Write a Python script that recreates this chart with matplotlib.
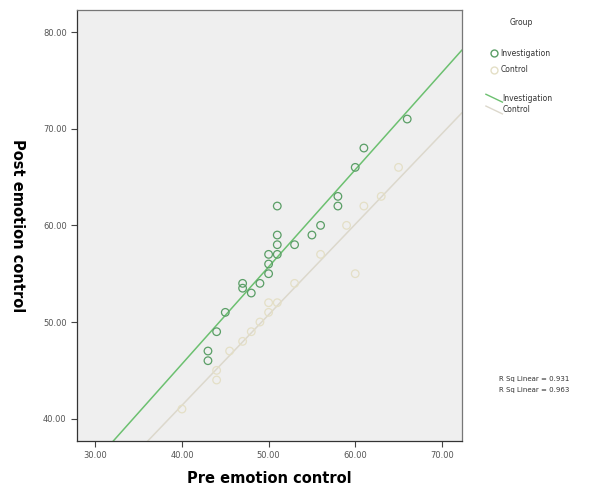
import numpy as np
import matplotlib
matplotlib.use("Agg")
from matplotlib import pyplot as plt
from matplotlib.lines import Line2D

# values
inv_pre = [66, 61, 60, 58, 58, 56, 55, 53, 51, 51, 51, 51, 50, 50, 50, 49, 47, 47, 48, 45, 44, 43, 43]
inv_post = [71, 68, 66, 63, 62, 60, 59, 58, 62, 59, 58, 57, 57, 56, 55, 54, 54, 53.5, 53, 51, 49, 47, 46]
ctl_pre = [40, 44, 44, 45.5, 47, 48, 49, 50, 50, 51, 53, 56, 59, 61, 63, 65, 60]
ctl_post = [41, 44, 45, 47, 48, 49, 50, 51, 52, 52, 54, 57, 60, 62, 63, 66, 55]
groups = ["Investigation", "Control"]
r_sq = [0.931, 0.963]
xticks = [30, 40, 50, 60, 70]
yticks = [40, 50, 60, 70, 80]

inv_col = "#5a9e66"
inv_line = "#6cc070"
ctl_col = "#e4dfc6"
ctl_line = "#dcd8cc"

fig = plt.figure(figsize=(5.89, 4.91), dpi=100)
ax = fig.add_axes([0.131, 0.102, 0.653, 0.878])
ax.set_facecolor("#efefef")

ax.scatter(inv_pre, inv_post, s=30, facecolors="none", edgecolors=inv_col, linewidths=0.9, zorder=3)
ax.scatter(ctl_pre, ctl_post, s=30, facecolors="none", edgecolors=ctl_col, linewidths=0.9, zorder=3)

xlim = (27.9, 72.3)
xs = np.array(xlim)
for px, py, c in [(inv_pre, inv_post, inv_line), (ctl_pre, ctl_post, ctl_line)]:
    k, b = np.polyfit(px, py, 1)
    ax.plot(xs, k * xs + b, color=c, lw=1.1, zorder=2)

ax.set_xlim(*xlim)
ax.set_ylim(37.7, 82.3)
ax.set_xticks(xticks)
ax.set_yticks(yticks)
ax.set_xticklabels([f"{v:.2f}" for v in xticks], fontsize=6, color="#555555")
ax.set_yticklabels([f"{v:.2f}" for v in yticks], fontsize=6, color="#555555")
ax.tick_params(direction="out", length=4, width=0.8, color="#444444")
for sp in ax.spines.values():
    sp.set_color("#777777")
    sp.set_linewidth(0.9)
ax.spines["left"].set_color("#333333")
ax.spines["bottom"].set_color("#333333")

ax.set_xlabel("Pre emotion control", fontsize=10.5, fontweight="bold", labelpad=8)
ax.set_ylabel("Post emotion control", fontsize=10.5, fontweight="bold", rotation=270, labelpad=24)

# legend on the right
fig.text(0.885, 0.955, "Group", fontsize=5.5, ha="center", va="center", color="#333333")
leg_y = [0.892, 0.858]
for g, c, yy in zip(groups, [inv_col, ctl_col], leg_y):
    fig.add_artist(Line2D([0.838], [yy], marker="o", markersize=5, markerfacecolor="none",
                          markeredgecolor=c, linestyle="none"))
    fig.text(0.85, yy, g, fontsize=5.5, va="center", color="#333333")
leg_y2 = [0.800, 0.776]
for g, c, yy in zip(groups, [inv_line, ctl_line], leg_y2):
    fig.add_artist(Line2D([0.825, 0.853], [yy + 0.008, yy - 0.008], color=c, lw=1))
    fig.text(0.853, yy, g, fontsize=5.5, va="center", color="#333333")

for i, r in enumerate(r_sq):
    fig.text(0.848, 0.228 - i * 0.022, f"R Sq Linear = {r:.3f}", fontsize=5, va="center", color="#333333")

plt.savefig("out.png", dpi=100)
